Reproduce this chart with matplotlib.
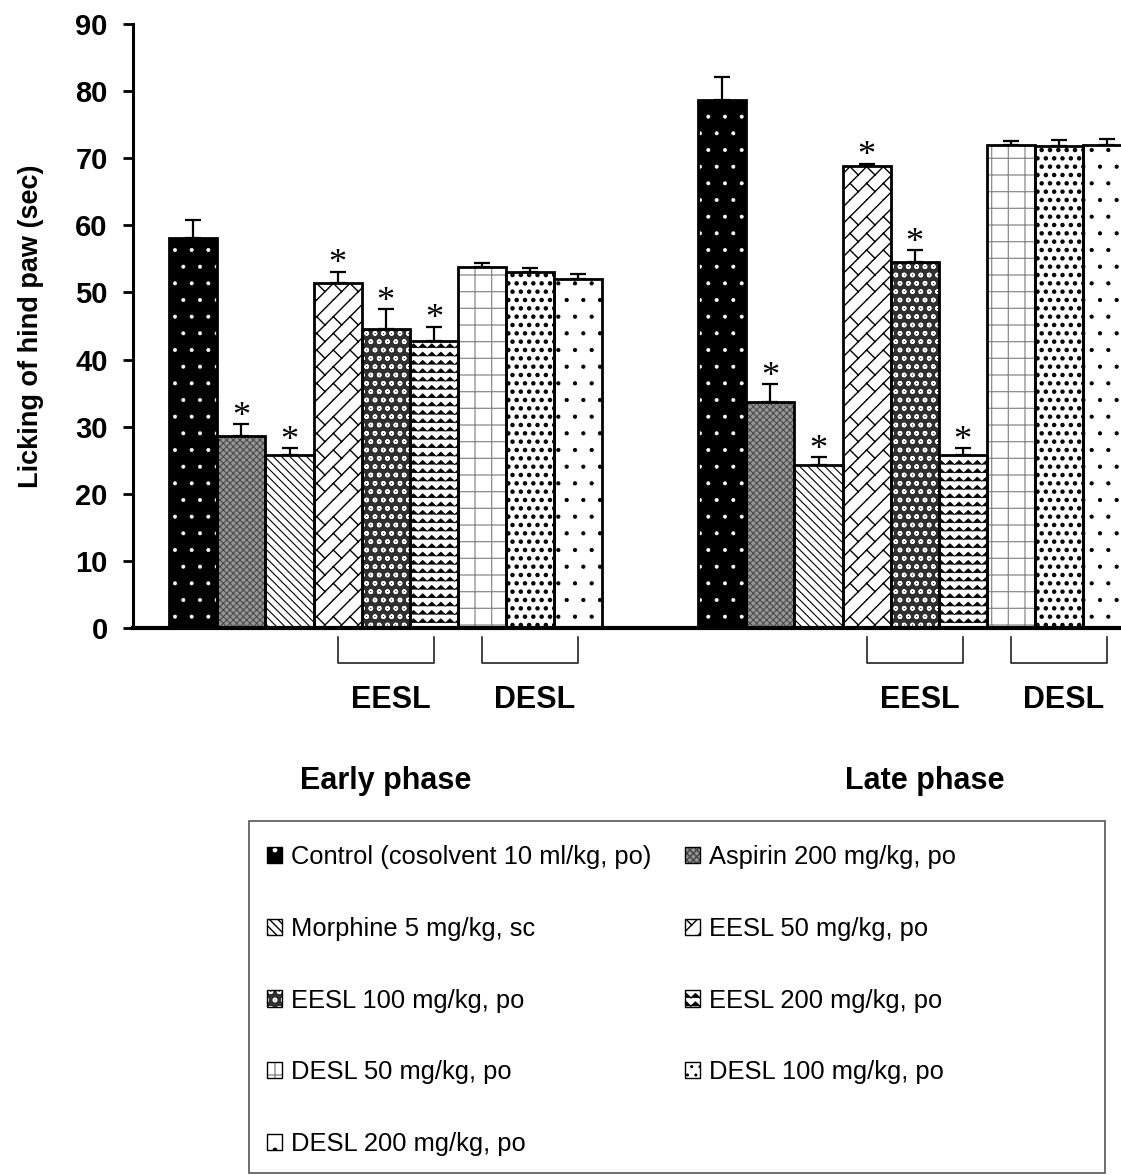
import warnings
import matplotlib.pyplot as plt
import matplotlib.patches as mpatches
import matplotlib.hatch as mhatch
from matplotlib.path import Path
import numpy as np

warnings.filterwarnings('ignore', message='hatch must consist')

plt.rcParams['font.family'] = ['Liberation Sans', 'DejaVu Sans']

treatments = ['Control (cosolvent 10 ml/kg, po)', 'Aspirin 200 mg/kg, po',
              'Morphine 5 mg/kg, sc', 'EESL 50 mg/kg, po', 'EESL 100 mg/kg, po',
              'EESL 200 mg/kg, po', 'DESL 50 mg/kg, po', 'DESL 100 mg/kg, po',
              'DESL 200 mg/kg, po']
phases = ['Early phase', 'Late phase']

early_mean = [58.1, 28.6, 25.7, 51.4, 44.5, 42.8, 53.8, 53.1, 52.0]
early_sem = [2.7, 1.8, 1.1, 1.7, 3.0, 2.1, 0.6, 0.6, 0.8]
late_mean = [78.7, 33.6, 24.2, 68.9, 54.6, 25.7, 72.0, 71.8, 72.0]
late_sem = [3.4, 2.7, 1.2, 0.3, 1.7, 1.1, 0.6, 0.9, 0.9]
early_sig = [False, True, True, True, True, True, False, False, False]
late_sig = [False, True, True, True, True, True, False, False, False]

extracts = ['EESL', 'DESL']
extract_first = [3, 6]
extract_last = [5, 8]


# two extra Excel-like fills: 'z' wavy lines, 'b' diagonal bricks
class ZigZagHatch(mhatch.HatchPatternBase):
    def __init__(self, hatch, density):
        self.num_rows = hatch.count('z') * 12
        self.teeth = 11
        self.num_vertices = self.num_rows * (2 * self.teeth + 1)

    def set_vertices_and_codes(self, vertices, codes):
        if self.num_rows == 0:
            return
        npts = 2 * self.teeth + 1
        xs = np.linspace(0, 1, npts)
        amp = 0.25 / self.num_rows
        wave = np.where(np.arange(npts) % 2 == 0, -amp, amp)
        for r in range(self.num_rows):
            sl = slice(r * npts, (r + 1) * npts)
            vertices[sl, 0] = xs
            vertices[sl, 1] = (r + 0.5) / self.num_rows + wave
            codes[sl] = Path.LINETO
            codes[r * npts] = Path.MOVETO


class BrickHatch(mhatch.HatchPatternBase):
    def __init__(self, hatch, density):
        self.n = hatch.count('b') * 6
        if self.n == 0:
            self.num_vertices = 0
        else:
            nl = 2 * self.n + 1
            self.num_vertices = nl * 2 + nl * self.n * 2

    def set_vertices_and_codes(self, vertices, codes):
        n = self.n
        if n == 0:
            return
        segs = []
        for k in range(-n, n + 1):
            segs.append(((k / n, 0.0), (k / n + 1, 1.0)))
            for m in range(n):
                y = m / n
                u = y + k / n
                segs.append(((u, y), (u + 0.5 / n, y - 0.5 / n)))
        for j, (p0, p1) in enumerate(segs):
            vertices[2 * j] = p0
            vertices[2 * j + 1] = p1
            codes[2 * j] = Path.MOVETO
            codes[2 * j + 1] = Path.LINETO


mhatch._hatch_types.append(ZigZagHatch)
mhatch._hatch_types.append(BrickHatch)

# face colour, hatch, hatch colour, hatch line width
styles = [('black', '.', 'white', 0.4),
          ('#959595', 'xxxxx', '#454545', 0.7),
          ('white', '\\\\\\\\', 'black', 0.8),
          ('white', 'b', 'black', 1.0),
          ('#303030', 'oo', 'white', 1.0),
          ('white', 'z', 'black', 0.55),
          ('white', '+', '#8a8a8a', 0.9),
          ('white', '..', 'black', 2.0),
          ('white', '.', 'black', 0.6)]

W, H = 1121, 1175
fig = plt.figure(figsize=(W / 100, H / 100), dpi=100)
ax = fig.add_axes([133 / W, 1 - 627.7 / H, 988 / W, (627.7 - 24.3) / H])

means = [early_mean, late_mean]
sems = [early_sem, late_sem]
sigs = [early_sig, late_sig]
offsets = [0, 11]

for g in range(2):
    x = np.arange(len(treatments)) + offsets[g] + 0.5
    for i in range(len(treatments)):
        face, hatch, hcol, hlw = styles[i]
        with plt.rc_context({'hatch.linewidth': hlw}):
            bars = ax.bar(x[i], means[g][i], width=1.0, color=face, edgecolor=hcol,
                          hatch=hatch, linewidth=0, zorder=2)
        for b in bars:
            if hasattr(b, 'set_hatch_linewidth'):
                b.set_hatch_linewidth(hlw)
        ax.bar(x[i], means[g][i], width=1.0, fill=False, edgecolor='black',
               linewidth=2.0, zorder=3)
    ax.errorbar(x, means[g], yerr=[np.zeros(len(x)), sems[g]], fmt='none',
                ecolor='black', elinewidth=1.6, capsize=5.5, capthick=1.6, zorder=1)
    for i in range(len(treatments)):
        if sigs[g][i]:
            ax.text(x[i], means[g][i] + sems[g][i] - 0.25, '*', family='Liberation Serif',
                    fontsize=26, ha='center', va='baseline')
    # brackets under the extract groups
    for k in range(len(extracts)):
        x0 = x[extract_first[k]]
        x1 = x[extract_last[k]]
        ax.plot([x0, x0, x1, x1], [-1.35, -5.3, -5.3, -1.35], color='#222222',
                lw=1.2, clip_on=False)
        ax.text((x0 + x1) / 2 + 0.1, -10.8, extracts[k], fontsize=22, fontweight='bold',
                ha='center', va='center')
    ax.text(x.mean() + 0.2 * g, -22.8, phases[g], fontsize=22, fontweight='bold',
            ha='center', va='center')

ax.set_xlim(-0.755, 19.79)
ax.set_ylim(0, 90)
ax.set_yticks(np.arange(0, 91, 10))
ax.set_xticks([])
ax.spines['top'].set_visible(False)
ax.spines['right'].set_visible(False)
ax.spines['left'].set_linewidth(2.2)
ax.spines['bottom'].set_linewidth(3.0)
ax.tick_params(axis='y', direction='out', length=7.2, width=2.0, pad=11,
               labelsize=21)
for lab in ax.get_yticklabels():
    lab.set_fontweight('bold')
ax.set_ylabel('Licking of hind paw (sec)', fontsize=19.5, fontweight='bold')
ax.yaxis.set_label_coords(-0.090, 0.5)

# legend box
frame = mpatches.Rectangle((249 / W, 1 - 1173 / H), (1105 - 249) / W, (1173 - 821) / H,
                           transform=fig.transFigure, fill=False, edgecolor='#555555',
                           lw=1.2)
fig.add_artist(frame)

handles = []
for i in range(len(treatments)):
    face, hatch, hcol, hlw = styles[i]
    with plt.rc_context({'hatch.linewidth': min(hlw, 0.8)}):
        p1 = mpatches.Patch(facecolor=face, edgecolor=hcol, hatch=hatch, linewidth=0)
    p2 = mpatches.Patch(fill=False, edgecolor='black', linewidth=1.0)
    handles.append((p1, p2))
order = [0, 2, 4, 6, 8, 1, 3, 5, 7]
fig.legend([handles[i] for i in order], [treatments[i] for i in order], ncol=2,
           loc='upper left', bbox_to_anchor=(267 / W, 1 - 845 / H), frameon=False,
           borderpad=0, borderaxespad=0, fontsize=18.4, handlelength=0.6,
           handleheight=0.6, handletextpad=0.35, labelspacing=1.87, columnspacing=1.3)

fig.savefig('out.png', dpi=100)
